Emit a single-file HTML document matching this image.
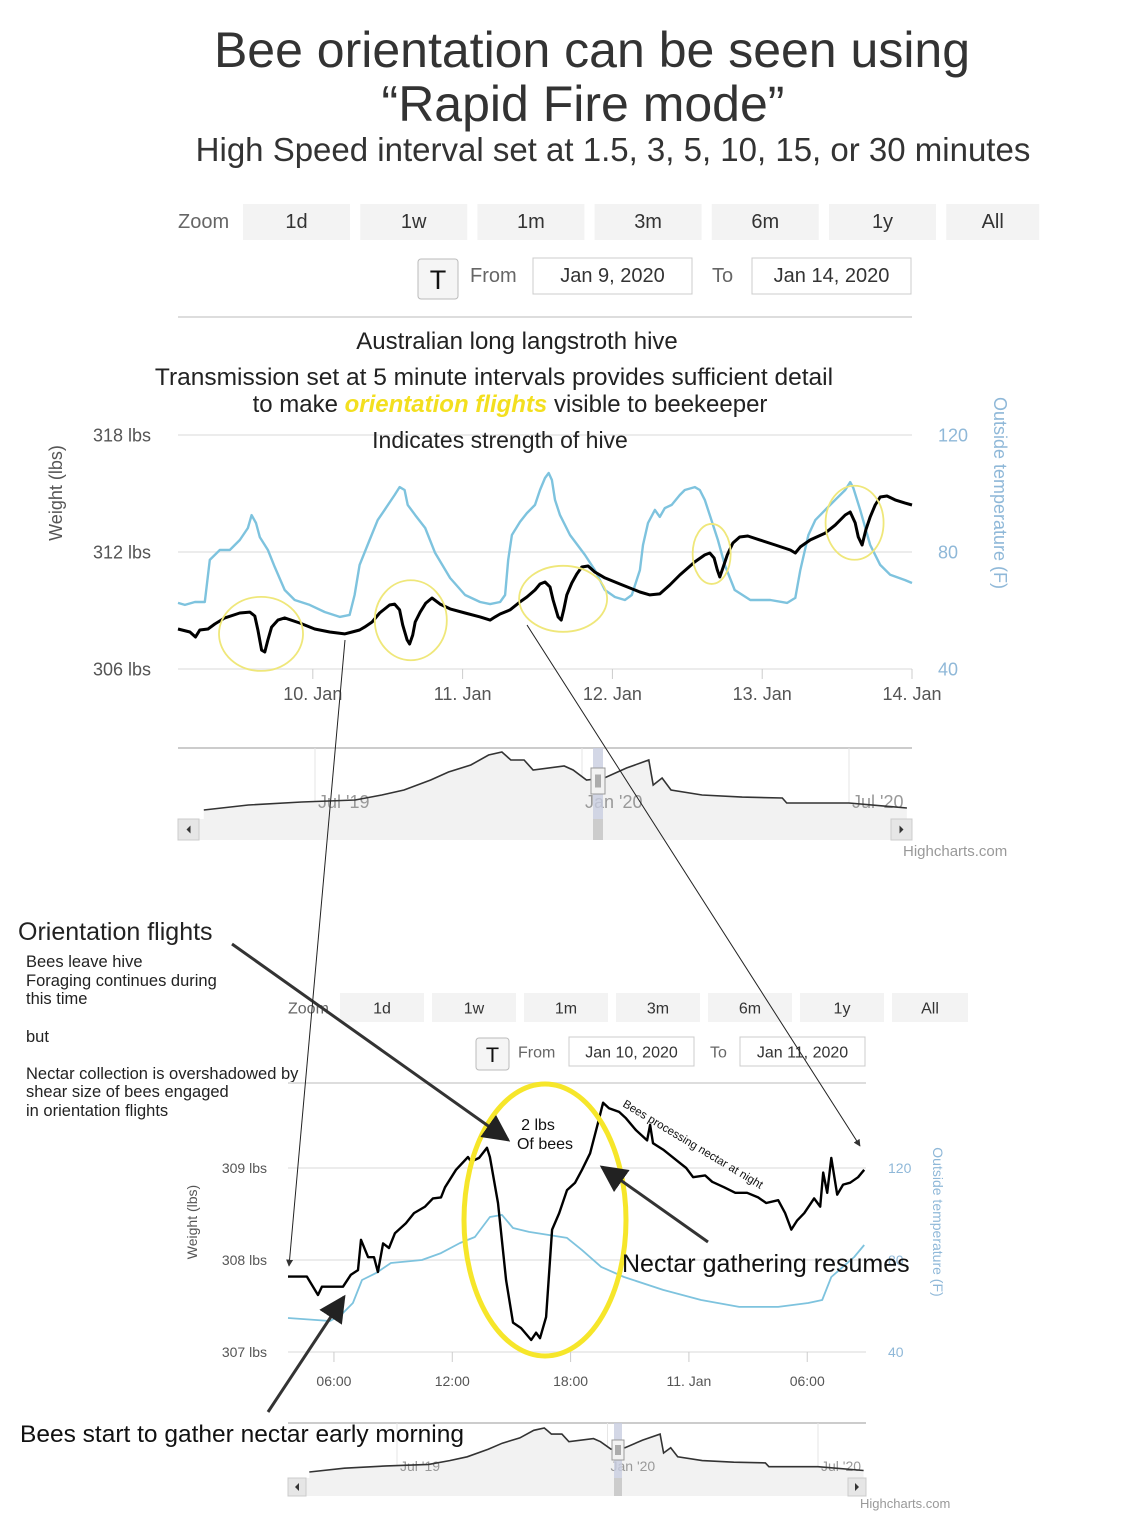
<!DOCTYPE html>
<html><head><meta charset="utf-8">
<style>
html,body{margin:0;padding:0;background:#fff;}
svg{display:block;}
.hc{font-family:"Liberation Sans Narrow","Liberation Sans",sans-serif;}
.ar{font-family:"Liberation Sans",sans-serif;}
</style></head>
<body>
<svg id="page" width="1141" height="1520" viewBox="0 0 1141 1520" xmlns="http://www.w3.org/2000/svg">
<defs>
<marker id="ah" viewBox="0 0 10 10" refX="9" refY="5" markerWidth="7" markerHeight="7" orient="auto"><path d="M0,0 L10,5 L0,10 z" fill="#333"/></marker>
<marker id="ahs" viewBox="0 0 10 10" refX="9" refY="5" markerWidth="9" markerHeight="9" orient="auto"><path d="M0,0 L10,5 L0,10 z" fill="#222"/></marker>
</defs>
<g class="ar" fill="#333">
<text x="592" y="67" font-size="50" text-anchor="middle">Bee orientation can be seen using</text>
<text x="583" y="121" font-size="50" text-anchor="middle">“Rapid Fire mode”</text>
<text x="613" y="161" font-size="33" text-anchor="middle">High Speed interval set at 1.5, 3, 5, 10, 15, or 30 minutes</text>
</g>
<g id="top-toolbar" class="hc"></g>
<g id="top-chart" class="hc"></g>
<g class="ar" fill="#222">
<text x="517" y="349" font-size="24" text-anchor="middle">Australian long langstroth hive</text>
<text x="494" y="385" font-size="24.5" text-anchor="middle">Transmission set at 5 minute intervals provides sufficient detail</text>
<text x="510" y="412" font-size="24" text-anchor="middle">to make <tspan fill="#f3df1f" font-style="italic" font-weight="bold">orientation flights</tspan> visible to beekeeper</text>
<text x="500" y="448" font-size="23" text-anchor="middle">Indicates strength of hive</text>
</g>
<g id="top-nav" class="hc"></g>
<text class="hc" x="903" y="856" font-size="15" fill="#999">Highcharts.com</text>

<g class="ar" fill="#222">
<text x="18" y="940" font-size="25">Orientation flights</text>
<text x="26" y="967" font-size="16.5">Bees leave hive</text>
<text x="26" y="986" font-size="16.5">Foraging continues during</text>
<text x="26" y="1004" font-size="16.5">this time</text>
<text x="26" y="1042" font-size="16.5">but</text>
<text x="26" y="1079" font-size="16.5">Nectar collection is overshadowed by</text>
<text x="26" y="1097" font-size="16.5">shear size of bees engaged</text>
<text x="26" y="1116" font-size="16.5">in orientation flights</text>
</g>
<g id="bot-toolbar" class="hc"></g>
<g id="bot-chart" class="hc"></g>
<g id="bot-nav" class="hc"></g>
<text class="hc" x="860" y="1508" font-size="13" fill="#999">Highcharts.com</text>

<g class="ar" fill="#111">
<text x="538" y="1130" font-size="16" text-anchor="middle">2 lbs</text>
<text x="545" y="1149" font-size="16" text-anchor="middle">Of bees</text>
<text x="622" y="1106" font-size="11.5" transform="rotate(31 622 1106)">Bees processing nectar at night</text>
<text x="622" y="1272" font-size="25">Nectar gathering resumes</text>
<text x="20" y="1442" font-size="24.5">Bees start to gather nectar early morning</text>
</g>

<script>
// ---------- Top chart data (hours since Jan 10 00:00) ----------
const wHours = [-21.6,-19.7,-18.8,-18.1,-16.8,-15.7,-14.1,-11.7,-10.1,-9.3,-8.8,-8.2,-7.7,-7.2,-6.6,-5.6,-4.5,-2.1,0.3,2.7,5.1,6.3,7.5,8.3,9.5,10.7,12.3,13.1,13.9,14.4,15.1,15.5,16.0,16.4,17.2,18.1,19.1,20.4,22.0,24.4,26.8,28.4,29.2,30.0,31.6,33.2,34.3,35.6,36.4,37.2,38.0,38.5,39.3,39.8,40.2,40.7,41.5,42.3,43.1,44.1,45.2,46.8,49.2,52.4,54.0,55.6,57.2,58.8,61.2,62.8,63.6,64.3,64.8,65.2,65.7,66.4,67.3,68.4,69.7,71.6,74.1,76.5,77.3,78.1,79.7,82.1,83.7,85.3,86.1,86.9,87.4,88.0,88.6,89.3,90.1,90.9,92.0,93.3,94.9,96.0];
const wLbs = [308.05,307.9,307.64,308.0,308.05,308.31,308.62,308.87,308.92,308.72,308.0,306.97,306.87,307.49,308.15,308.51,308.62,308.36,308.05,307.9,307.8,307.9,308.0,308.15,308.41,308.87,309.28,309.33,309.03,308.26,307.49,307.28,307.74,308.41,308.92,309.38,309.64,309.33,309.08,308.87,308.67,308.51,308.67,308.82,309.03,309.44,309.69,310.05,310.36,310.46,310.21,309.54,308.67,308.51,309.03,309.8,310.41,310.87,311.23,311.28,310.97,310.67,310.36,309.95,309.8,309.85,310.31,310.82,311.49,311.85,311.95,311.69,311.08,310.72,311.18,311.85,312.46,312.77,312.82,312.62,312.36,312.1,311.95,312.26,312.62,312.97,313.38,313.9,314.05,313.49,312.77,312.36,313.13,313.8,314.41,314.82,314.87,314.67,314.51,314.41];
const tHours = [-21.6,-20.5,-18.9,-17.3,-16.5,-14.9,-13.3,-11.7,-10.4,-9.8,-9.1,-8.5,-7.2,-6.1,-4.5,-2.9,-0.5,1.9,4.3,5.9,6.7,7.5,9.1,10.4,11.5,13.1,13.9,14.7,15.2,16.4,18.0,19.6,22.0,24.4,26.8,28.4,30.0,30.8,31.3,31.9,33.2,34.3,35.6,36.4,37.2,37.8,38.3,38.8,39.6,41.2,43.6,45.2,46.8,48.4,50.0,51.1,52.4,52.9,53.7,54.8,55.6,56.4,57.5,58.8,59.6,61.2,62.0,62.8,63.6,64.9,66.0,67.6,70.1,73.3,76.0,77.3,78.1,79.4,80.5,82.1,83.7,85.3,86.1,86.6,87.7,89.3,90.9,92.5,94.9,96.0];
const tF = [62.6,61.9,62.9,62.9,77.3,80.7,80.7,84.1,88.2,92.6,89.9,85.1,80.7,74.9,67.0,63.6,61.9,59.5,57.8,58.5,65.3,75.6,84.1,90.9,94.4,99.5,102.2,101.2,96.1,92.6,88.2,79.7,71.1,65.3,62.9,62.2,62.9,65.3,77.3,85.8,90.3,93.3,96.1,101.2,105.3,107.0,104.6,97.8,92.6,85.8,79.0,73.8,67.0,64.6,63.6,65.3,73.8,82.4,89.9,94.4,92.0,95.0,96.1,99.5,101.2,102.2,101.2,97.8,92.6,84.1,75.6,67.0,63.6,63.6,62.6,64.3,73.8,85.8,90.9,94.4,97.8,101.2,103.9,101.9,94.4,82.4,75.6,72.2,70.4,69.4];
const topWTicks = [306,312,318];
const topTTicks = [40,80,120];
const topXTicks = [0,24,48,72,96];
const topXLabels = ["10. Jan","11. Jan","12. Jan","13. Jan","14. Jan"];
const circHours = [-8.3,15.7,40.1,63.9,86.8];
const circLbs = [307.8,308.5,309.6,311.9,313.5];

// ---------- Bottom chart data (hours since Jan 10 00:00) ----------
const bwHours = [3.67,4.63,5.19,5.39,6.46,6.86,7.22,7.37,7.73,8.03,8.23,8.49,8.79,9.09,9.65,10.06,10.62,11.02,11.43,11.63,12.19,12.8,12.95,13.36,13.76,13.91,14.32,14.73,15.08,15.49,16.0,16.25,16.45,16.76,17.06,17.42,17.82,18.23,18.58,18.99,19.39,19.65,19.95,20.46,20.81,21.32,21.88,22.03,22.18,22.69,23.45,23.86,24.21,24.82,25.18,25.79,26.35,26.95,27.51,27.92,28.53,28.88,29.19,29.49,29.85,30.35,30.66,30.81,31.01,31.22,31.52,31.82,32.18,32.58,32.89];
const bwLbs = [307.82,307.82,307.62,307.71,307.71,307.84,307.89,308.22,308.03,308.03,307.87,308.18,308.13,308.29,308.4,308.51,308.58,308.67,308.68,308.79,308.98,309.12,309.07,309.11,309.22,309.12,308.62,307.78,307.32,307.26,307.13,307.21,307.15,307.38,308.33,308.51,308.76,308.84,308.98,309.16,309.49,309.71,309.65,309.61,309.54,309.41,309.3,309.47,309.27,309.2,309.07,309.0,308.9,308.92,308.85,308.79,308.73,308.73,308.68,308.62,308.65,308.51,308.33,308.43,308.51,308.67,308.58,308.95,308.73,309.11,308.71,308.82,308.84,308.9,308.98];
const btHours = [3.67,5.8,6.36,6.96,7.42,8.13,8.89,10.46,11.43,12.39,13.15,13.91,14.52,15.08,15.89,16.86,17.82,18.58,19.55,20.71,22.69,24.62,26.55,28.53,30.05,30.76,31.22,32.38,32.89];
const btF = [54.8,53.5,56.1,61.3,71.3,74.3,78.7,80.0,83.0,87.4,90.0,98.7,99.6,93.9,92.2,90.9,89.6,84.3,77.0,72.6,67.0,62.6,59.6,59.6,61.3,62.6,72.6,81.3,86.5];
const botWTicks = [307,308,309];
const botTTicks = [40,80,120];
const botXTicks = [6,12,18,24,30];
const botXLabels = ["06:00","12:00","18:00","11. Jan","06:00"];

// ---------- Navigator data (months since Jan 2019) ----------
const navMonths = [3.5,4.5,5.7,6.9,7.5,8.0,8.6,9.0,9.5,9.9,10.2,10.3,10.4,10.7,10.9,11.6,11.8,12.1,12.5,13.0,13.5,13.6,13.8,14.0,14.7,15.6,16.5,16.6,18.0,19.3];
const navLbs = [277,280.5,282.6,284,287.5,291,298,303.6,308.5,315.5,317.6,314.8,312,312,305,307.8,305,298,299.4,306.4,312,294.5,299.4,291,287.5,286,285.4,281.9,281.9,278.4];
const navTicks = [6,12,18];
const navLabels = ["Jul '19","Jan '20","Jul '20"];
const zoomButtons = ["1d","1w","1m","3m","6m","1y","All"];

const NS = "http://www.w3.org/2000/svg";
function mk(parent, tag, attrs, text){
  const e = document.createElementNS(NS, tag);
  for (const k in attrs) e.setAttribute(k, attrs[k]);
  if (text !== undefined) e.textContent = text;
  parent.appendChild(e);
  return e;
}
function lin(d0,d1,r0,r1){ return v => r0 + (v-d0)*(r1-r0)/(d1-d0); }
function pathOf(xs, ys, fx, fy){
  return xs.map((h,i)=>(i?"L":"M")+fx(h).toFixed(1)+","+fy(ys[i]).toFixed(1)).join(" ");
}

function toolbar(g, o){
  let t = mk(g,"text",{x:o.zx,y:o.by+o.bh/2+6,"font-size":o.fs,fill:"#666"},"Zoom");
  
  
  zoomButtons.forEach((b,i)=>{
    const x = o.bx + i*o.step;
    const w = i===zoomButtons.length-1 ? o.lastW : o.bw;
    const r = mk(g,"rect",{x:x,y:o.by,width:w,height:o.bh,fill:"#f3f3f3"});
    
    
    const tx = mk(g,"text",{x:x+w/2,y:o.by+o.bh/2+6,"font-size":o.fs,fill:"#333","text-anchor":"middle"},b);
    
    
  });
  const tb = mk(g,"rect",{x:o.tx,y:o.ty,width:o.tw,height:o.th,rx:3,fill:"#f5f5f5",stroke:"#bbb"});
  
  
  const tt = mk(g,"text",{x:o.tx+o.tw/2,y:o.ty+o.th/2+o.fs*0.5,"font-size":o.fs*1.35,fill:"#111","text-anchor":"middle","font-family":"Liberation Sans, sans-serif"},"T");
  
  
  const fl = mk(g,"text",{x:o.fromX,y:o.iy+o.ih/2+6,"font-size":o.fs,fill:"#666"},"From");
  
  
  const fi = mk(g,"rect",{x:o.fi,y:o.iy,width:o.iw,height:o.ih,fill:"#fff",stroke:"#ccc"});
  
  
  const ft = mk(g,"text",{x:o.fi+o.iw/2,y:o.iy+o.ih/2+6,"font-size":o.fs,fill:"#333","text-anchor":"middle"},o.from);
  
  
  const tl = mk(g,"text",{x:o.toX,y:o.iy+o.ih/2+6,"font-size":o.fs,fill:"#666"},"To");
  
  
  const ti = mk(g,"rect",{x:o.ti,y:o.iy,width:o.iw,height:o.ih,fill:"#fff",stroke:"#ccc"});
  
  
  const tv = mk(g,"text",{x:o.ti+o.iw/2,y:o.iy+o.ih/2+6,"font-size":o.fs,fill:"#333","text-anchor":"middle"},o.to);
  
  
  const sl = mk(g,"line",{x1:o.lx0,x2:o.lx1,y1:o.ly,y2:o.ly,stroke:"#ddd","stroke-width":2});
  
  
}
toolbar(document.getElementById("top-toolbar"),{zx:178,bx:243,step:117.2,bw:107,lastW:93,by:204,bh:36,fs:20,
  tx:418,ty:259,tw:40,th:40,fromX:470,iy:258,ih:36,fi:533,ti:752,iw:159,toX:712,from:"Jan 9, 2020",to:"Jan 14, 2020",lx0:178,lx1:912,ly:317});
toolbar(document.getElementById("bot-toolbar"),{zx:288,bx:340,step:92,bw:84,lastW:76,by:993,bh:29,fs:16,
  tx:476,ty:1038,tw:33,th:32,fromX:518,iy:1037,ih:29,fi:569,ti:740,iw:125,toX:710,from:"Jan 10, 2020",to:"Jan 11, 2020",lx0:288,lx1:866,ly:1083});

function chart(g, o){
  const fx = lin(o.x0h,o.x1h,o.px0,o.px1);
  const fy = lin(o.wTicks[0],o.wTicks[2],o.py0,o.py1);
  const ft = lin(o.tTicks[0],o.tTicks[2],o.py0,o.py1);
  o.wTicks.forEach(v=>{
    const l = mk(g,"line",{x1:o.px0,x2:o.px1,y1:fy(v),y2:fy(v),stroke:"#e6e6e6","stroke-width":1.5});
    
    
    const t = mk(g,"text",{x:o.ylx,y:fy(v)+o.fs*0.35,"font-size":o.fs,fill:"#555","text-anchor":"end"},v+" lbs");
    
    
  });
  o.tTicks.forEach(v=>{
    const t = mk(g,"text",{x:o.yrx,y:ft(v)+o.fs*0.35,"font-size":o.fs,fill:"#8fb8d8"},v);
    
    
  });
  o.xTicks.forEach((h,i)=>{
    const x = fx(h);
    const l = mk(g,"line",{x1:x,x2:x,y1:o.py0,y2:o.py0+10,stroke:"#ccc"});
    
    
    const t = mk(g,"text",{x:x,y:o.py0+o.xly,"font-size":o.fs,fill:"#555","text-anchor":"middle"},o.xLabels[i]);
    
    
  });
  const cy = o.tcy;
  const a1 = mk(g,"text",{x:o.atl,y:cy,"font-size":o.fs,fill:"#555","text-anchor":"middle",transform:`rotate(-90 ${o.atl} ${cy})`},"Weight (lbs)");
  
  
  const a2 = mk(g,"text",{x:o.atr,y:cy,"font-size":o.fs,fill:"#8fb8d8","text-anchor":"middle",transform:`rotate(90 ${o.atr} ${cy})`},"Outside temperature (F)");
  
  
  const tp = mk(g,"path",{d:pathOf(o.tH,o.tV,fx,ft),fill:"none",stroke:"#7ec3de","stroke-width":o.sw,"stroke-linejoin":"round"});
  
  
  const wp = mk(g,"path",{d:pathOf(o.wH,o.wV,fx,fy),fill:"none",stroke:"#000","stroke-width":o.sw+0.6,"stroke-linejoin":"round"});
  
  
  return {fx,fy};
}
const topChartScales = chart(document.getElementById("top-chart"),{x0h:-21.6,x1h:96,px0:178,px1:912,py0:669,py1:435,
  wTicks:topWTicks,tTicks:topTTicks,xTicks:topXTicks,xLabels:topXLabels,fs:18,ylx:151,yrx:938,xly:31,atl:62,atr:994,tcy:493,
  tH:tHours,tV:tF,wH:wHours,wV:wLbs,sw:2.4});
const circRx = [42,36,44,19,29], circRy = [37,40,33,30,37];
const tcG = document.getElementById("top-chart");
circHours.forEach((h,i)=>{
  const c = mk(tcG,"ellipse",{cx:topChartScales.fx(h),cy:topChartScales.fy(circLbs[i]),rx:circRx[i],ry:circRy[i],fill:"none",stroke:"#efe77a","stroke-width":1.8});
  
  
});
const botChartScales = chart(document.getElementById("bot-chart"),{x0h:3.67,x1h:32.98,px0:288,px1:866,py0:1352,py1:1168,
  wTicks:botWTicks,tTicks:botTTicks,xTicks:botXTicks,xLabels:botXLabels,fs:14,ylx:267,yrx:888,xly:34,atl:197,atr:933,tcy:1222,
  tH:btHours,tV:btF,wH:bwHours,wV:bwLbs,sw:1.8});
const bigEl = mk(document.getElementById("bot-chart"),"ellipse",{cx:545,cy:1220,rx:81,ry:136,fill:"none",stroke:"#f6e62a","stroke-width":5});



function nav(g,o){
  const fx = lin(6,18,o.t0,o.t2);
  const fy = lin(277,317.6,o.yb,o.yt);
  const tl = mk(g,"line",{x1:o.x0,x2:o.x1,y1:o.top,y2:o.top,stroke:"#ccc","stroke-width":2});
  
  
  navTicks.forEach(m=>{
    const l = mk(g,"line",{x1:fx(m),x2:fx(m),y1:o.top,y2:o.sb,stroke:"#e6e6e6"});
    
    
  });
  const d = pathOf(navMonths,navLbs,fx,fy);
  const area = mk(g,"path",{d:d+` L${fx(navMonths[navMonths.length-1])},${o.sb} L${fx(navMonths[0])},${o.sb} Z`,fill:"#f2f2f2"});
  
  
  navTicks.forEach((m,i)=>{
    const t = mk(g,"text",{x:fx(m)+3,y:o.ly,"font-size":o.fs,fill:"#999"},navLabels[i]);
    
    
  });
  const ln = mk(g,"path",{d:d,fill:"none",stroke:"#333","stroke-width":1.6});
  
  
  const sb = mk(g,"rect",{x:o.x0,y:o.sb,width:o.x1-o.x0,height:o.sh,fill:"#f2f2f2"});
  
  
  const lb = mk(g,"rect",{x:o.x0,y:o.sb,width:o.sh,height:o.sh,fill:"#e6e6e6",stroke:"#ccc"});
  
  
  mk(g,"path",{d:`M${o.x0+o.sh/2+2},${o.sb+o.sh/2-4} l-4,4 l4,4 z`,fill:"#333"});
  const rb = mk(g,"rect",{x:o.x1-o.sh,y:o.sb,width:o.sh,height:o.sh,fill:"#e6e6e6",stroke:"#ccc"});
  
  
  mk(g,"path",{d:`M${o.x1-o.sh/2-2},${o.sb+o.sh/2-4} l4,4 l-4,4 z`,fill:"#333"});
  const band = mk(g,"rect",{x:o.hx,y:o.top,width:o.hw,height:o.sb-o.top,fill:"#c8cde0",opacity:0.8});
  
  
  const th = mk(g,"rect",{x:o.hx,y:o.sb,width:o.hw,height:o.sh,fill:"#ccc"});
  
  
  const hd = mk(g,"rect",{x:o.hx-2,y:o.hy,width:o.hw+4,height:o.hh,fill:"#f2f2f2",stroke:"#999"});
  
  
  [-2,0,2].forEach(dx=>{
    mk(g,"line",{x1:o.hx+o.hw/2+dx,x2:o.hx+o.hw/2+dx,y1:o.hy+o.hh*0.25,y2:o.hy+o.hh*0.75,stroke:"#666"});
  });
}
nav(document.getElementById("top-nav"),{x0:178,x1:912,top:748,t0:315,t2:849,yb:810,yt:752,sb:819,sh:21,ly:808,fs:18,hx:593,hw:10,hy:768,hh:26});
nav(document.getElementById("bot-nav"),{x0:288,x1:866,top:1423,t0:397,t2:818,yb:1472,yt:1428,sb:1478,sh:18,ly:1471,fs:14,hx:614,hw:8,hy:1440,hh:20});
</script>
<g>
<line x1="232" y1="944" x2="508" y2="1140" stroke="#333" stroke-width="3" marker-end="url(#ahs)"/>
<line x1="708" y1="1242" x2="602" y2="1167" stroke="#333" stroke-width="3" marker-end="url(#ahs)"/>
<line x1="268" y1="1412" x2="344" y2="1297" stroke="#333" stroke-width="3" marker-end="url(#ahs)"/>
<line x1="345" y1="640" x2="289" y2="1266" stroke="#222" stroke-width="1" marker-end="url(#ah)"/>
<line x1="527" y1="625" x2="860" y2="1146" stroke="#222" stroke-width="1" marker-end="url(#ah)"/>
</g>
</svg>
</body></html>
